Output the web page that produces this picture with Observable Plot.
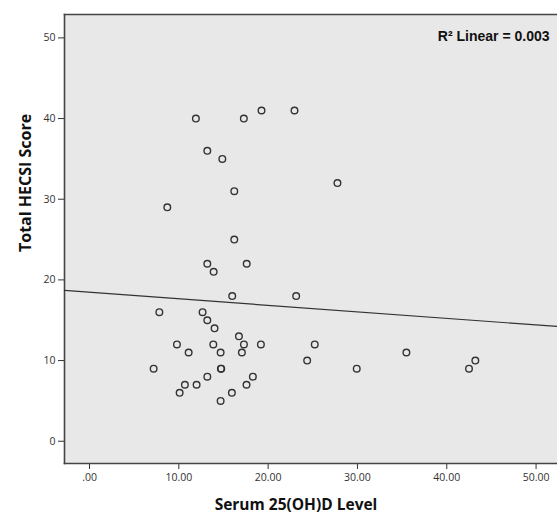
<!DOCTYPE html>
<html><head><meta charset="utf-8">
<script src="https://cdn.jsdelivr.net/npm/d3@7"></script>
<script src="https://cdn.jsdelivr.net/npm/@observablehq/plot@0.6"></script>
<style>body{margin:0;background:#fff;} #chart svg{display:block;}</style>
</head><body><div id="chart"></div>
<script>
const serum = [11.91,17.28,19.26,13.19,14.87,16.21,8.71,16.21,22.95,27.76,
  13.19,13.9,17.6,15.98,7.82,12.66,13.19,14.0,16.73,9.79,13.86,17.29,19.19,
  11.1,14.68,17.06,7.18,14.71,14.75,13.19,18.29,10.68,11.99,17.58,10.09,15.94,14.68,
  23.14,25.22,24.37,29.92,35.48,42.49,43.2];
const hecsi = [40,40,41,36,35,31,29,25,41,32,
  22,21,22,18,16,16,15,14,13,12,12,12,12,
  11,11,11,9,9,9,8,8,7,7,7,6,6,5,
  18,12,10,9,11,9,10];
const xTicks = [0,10,20,30,40,50];
const yTicks = [0,10,20,30,40,50];
const xDomain = [-2.8, 52.4];
const yDomain = [-2.76, 52.9];
const fitIntercept = 18.47;
const fitSlope = -0.081;
const r2Label = "R² Linear = 0.003";
const xTitle = "Serum 25(OH)D Level";
const yTitle = "Total HECSI Score";

const points = serum.map((x, i) => ({x, y: hecsi[i]}));
const fitLine = xDomain.map(x => ({x, y: fitIntercept + fitSlope * x}));

const chart = Plot.plot({
  width: 557,
  height: 516,
  marginLeft: 64,
  marginRight: 0,
  marginTop: 14,
  marginBottom: 53,
  style: {fontFamily: "'Open Sans', sans-serif", fontSize: "10.5px", color: "#333", background: "#fff"},
  x: {domain: xDomain, ticks: xTicks, tickFormat: d => d === 0 ? ".00" : d.toFixed(2), tickSize: 6, tickPadding: 4, label: null},
  y: {domain: yDomain, ticks: yTicks, tickFormat: d => String(d), tickSize: 6, tickPadding: 3, label: null},
  marks: [
    Plot.frame({fill: "#e8e8e8", stroke: null}),
    Plot.frame({anchor: "top", stroke: "#444", strokeWidth: 1.6}),
    Plot.frame({anchor: "left", stroke: "#444", strokeWidth: 1.6}),
    Plot.frame({anchor: "bottom", stroke: "#444", strokeWidth: 1.6}),
    Plot.line(fitLine, {x: "x", y: "y", stroke: "#333", strokeWidth: 1.2}),
    Plot.dot(points, {x: "x", y: "y", r: 3.3, stroke: "#333", strokeWidth: 1.4, fill: "none"}),
    Plot.text([r2Label], {text: d => d, frameAnchor: "top-right", textAnchor: "end", lineAnchor: "middle", dx: -8, dy: 22,
      fontFamily: "Liberation Sans, Arial, sans-serif", fontWeight: "bold", fontSize: 14, fill: "#111"}),
    Plot.text([xTitle], {text: d => d, frameAnchor: "bottom", lineAnchor: "middle", dx: -15, dy: 42,
      fontWeight: "bold", fontSize: 15.5, fill: "#111"}),
    Plot.text([yTitle], {text: d => d, frameAnchor: "left", lineAnchor: "middle", rotate: -90, dx: -39, dy: 13,
      fontWeight: "bold", fontSize: 16, fill: "#111"})
  ]
});
document.getElementById("chart").appendChild(chart);
</script>
</body></html>
